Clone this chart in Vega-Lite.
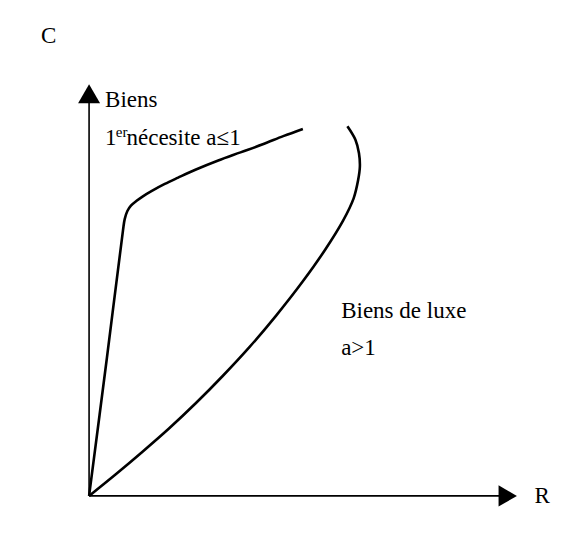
{
  "$schema": "https://vega.github.io/schema/vega-lite/v6.json",
  "width": 579,
  "height": 541,
  "padding": 0,
  "autosize": {"type": "none"},
  "background": "white",
  "config": {"view": {"stroke": null}},
  "datasets": {
    "curves": [
      {"curve": "necessite", "o": 0, "R": 0, "C": 0},
      {"curve": "necessite", "o": 1, "R": 20, "C": 153},
      {"curve": "necessite", "o": 2, "R": 38, "C": 294},
      {"curve": "necessite", "o": 3, "R": 40, "C": 307},
      {"curve": "necessite", "o": 4, "R": 43, "C": 316},
      {"curve": "necessite", "o": 5, "R": 47, "C": 322},
      {"curve": "necessite", "o": 6, "R": 53, "C": 327},
      {"curve": "necessite", "o": 7, "R": 60, "C": 332},
      {"curve": "necessite", "o": 8, "R": 70, "C": 338},
      {"curve": "necessite", "o": 9, "R": 85, "C": 346},
      {"curve": "necessite", "o": 10, "R": 100, "C": 353},
      {"curve": "necessite", "o": 11, "R": 120, "C": 362},
      {"curve": "necessite", "o": 12, "R": 145, "C": 372},
      {"curve": "necessite", "o": 13, "R": 170, "C": 381},
      {"curve": "necessite", "o": 14, "R": 195, "C": 390},
      {"curve": "necessite", "o": 15, "R": 218, "C": 399},
      {"curve": "necessite", "o": 16, "R": 240, "C": 407},
      {"curve": "luxe", "o": 0, "R": 0, "C": 0},
      {"curve": "luxe", "o": 1, "R": 30, "C": 24},
      {"curve": "luxe", "o": 2, "R": 60, "C": 49},
      {"curve": "luxe", "o": 3, "R": 90, "C": 75},
      {"curve": "luxe", "o": 4, "R": 120, "C": 103},
      {"curve": "luxe", "o": 5, "R": 150, "C": 133},
      {"curve": "luxe", "o": 6, "R": 180, "C": 165},
      {"curve": "luxe", "o": 7, "R": 210, "C": 200},
      {"curve": "luxe", "o": 8, "R": 240, "C": 238},
      {"curve": "luxe", "o": 9, "R": 265, "C": 273},
      {"curve": "luxe", "o": 10, "R": 285, "C": 305},
      {"curve": "luxe", "o": 11, "R": 297, "C": 330},
      {"curve": "luxe", "o": 12, "R": 302, "C": 350},
      {"curve": "luxe", "o": 13, "R": 304, "C": 365},
      {"curve": "luxe", "o": 14, "R": 303, "C": 380},
      {"curve": "luxe", "o": 15, "R": 299, "C": 395},
      {"curve": "luxe", "o": 16, "R": 290, "C": 410}
    ],
    "axes": [
      {"axis": "C", "R": 0, "C": 0, "R2": 0, "C2": 437},
      {"axis": "R", "R": 0, "C": 0, "R2": 461, "C2": 0}
    ],
    "arrowsUp": [{"axis": "C", "R": 0, "C": 446}],
    "arrowsRight": [{"axis": "R", "R": 470, "C": 0}],
    "labels": [
      {"label": "C", "R": -54, "C": 502},
      {"label": "Biens", "R": 18, "C": 431},
      {"label": "1", "R": 18, "C": 389},
      {"label": "nécesite a≤1", "R": 42, "C": 389},
      {"label": "Biens de luxe", "R": 283, "C": 197},
      {"label": "a>1", "R": 283, "C": 156},
      {"label": "R", "R": 500, "C": -8}
    ],
    "sup": [{"label": "er", "R": 30, "C": 398}]
  },
  "layer": [
    {
      "data": {"name": "axes"},
      "mark": {"type": "rule", "color": "black", "strokeWidth": 1.6},
      "encoding": {
        "x": {"field": "R", "type": "quantitative", "scale": {"domain": [-62, 517]}, "axis": null},
        "y": {"field": "C", "type": "quantitative", "scale": {"domain": [-12, 529]}, "axis": null},
        "x2": {"field": "R2"},
        "y2": {"field": "C2"}
      }
    },
    {
      "data": {"name": "arrowsUp"},
      "mark": {"type": "point", "shape": "triangle-up", "size": 484, "filled": true, "color": "black", "opacity": 1},
      "encoding": {
        "x": {"field": "R", "type": "quantitative"},
        "y": {"field": "C", "type": "quantitative"}
      }
    },
    {
      "data": {"name": "arrowsRight"},
      "mark": {"type": "point", "shape": "triangle-right", "size": 450, "filled": true, "color": "black", "opacity": 1},
      "encoding": {
        "x": {"field": "R", "type": "quantitative"},
        "y": {"field": "C", "type": "quantitative"}
      }
    },
    {
      "data": {"name": "curves"},
      "mark": {"type": "line", "color": "black", "strokeWidth": 2.6, "interpolate": "catmull-rom"},
      "encoding": {
        "x": {"field": "R", "type": "quantitative"},
        "y": {"field": "C", "type": "quantitative"},
        "detail": {"field": "curve"},
        "order": {"field": "o", "type": "quantitative"}
      }
    },
    {
      "data": {"name": "labels"},
      "mark": {"type": "text", "align": "left", "baseline": "alphabetic", "font": "Liberation Serif, Times New Roman, serif", "fontSize": 23, "color": "black"},
      "encoding": {
        "x": {"field": "R", "type": "quantitative"},
        "y": {"field": "C", "type": "quantitative"},
        "text": {"field": "label"}
      }
    },
    {
      "data": {"name": "sup"},
      "mark": {"type": "text", "align": "left", "baseline": "alphabetic", "font": "Liberation Serif, Times New Roman, serif", "fontSize": 15, "color": "black"},
      "encoding": {
        "x": {"field": "R", "type": "quantitative"},
        "y": {"field": "C", "type": "quantitative"},
        "text": {"field": "label"}
      }
    }
  ]
}
